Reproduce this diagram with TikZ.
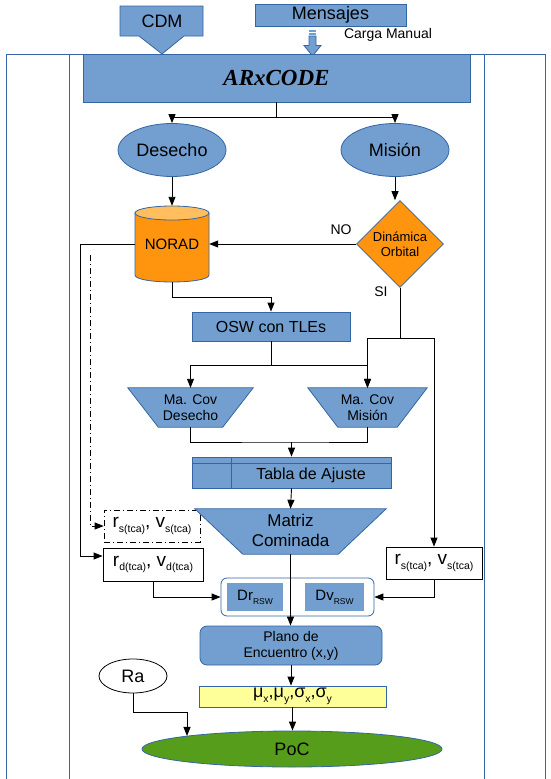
\documentclass[tikz,border=0pt]{standalone}
\usepackage{fontspec}
\setmainfont{Liberation Sans}
\newfontfamily\titlefont{Liberation Serif}
\usetikzlibrary{arrows.meta,shapes.geometric}
\definecolor{bfill}{HTML}{729FCF}
\definecolor{bline}{HTML}{3465A4}
\definecolor{orng}{HTML}{FF950E}
\definecolor{orngtop}{HTML}{FFBF5F}
\definecolor{grn}{HTML}{579D1C}
\definecolor{ylw}{HTML}{FFFF99}
\newcommand\fsz[2]{\fontsize{#1}{#2}\selectfont}
\newcommand\sbx[1]{\raisebox{-4.5pt}{\fsz{10.5}{12}#1}}
\newcommand\sby[1]{\raisebox{-4pt}{\fsz{8.5}{10}#1}}
\begin{document}
\begin{tikzpicture}[x=1pt,y=-1pt,
  arr/.style={draw=black,line width=0.9pt,-{Triangle[length=9pt,width=7pt]}},
  ln/.style={draw=black,line width=0.9pt},
  frameln/.style={draw=bline,line width=0.8pt},
  bbox/.style={rectangle,fill=bfill,draw=bline,line width=0.8pt,inner sep=0pt,align=center},
  bell/.style={ellipse,fill=bfill,draw=bline,line width=0.8pt,inner sep=0pt},
  txt/.style={inner sep=0pt,align=center},
  wbox/.style={rectangle,draw=black,line width=0.8pt,fill=white,inner sep=0pt},
  trap/.style={fill=bfill,draw=bline,line width=0.8pt},
  dashdot/.style={dash pattern=on 6pt off 3pt on 1pt off 3pt}
]
\useasboundingbox (0,0) rectangle (551,779);

% frame
\draw[frameln] (6,779) -- (6,54) -- (545,54) -- (545,779);
\draw[frameln] (69,54) -- (69,779);
\draw[frameln] (484,54) -- (484,779);

% CDM block arrow
\draw[trap] (120,6) -- (203,6) -- (203,36) -- (184,36) -- (162,54) -- (139,36) -- (120,36) -- cycle;
\node[txt,font=\fsz{18}{20}] (cdm) at (162,21) {CDM};

% Mensajes
\node[bbox,minimum width=151pt,minimum height=22pt,font=\fsz{18}{20}] (mens) at (330.5,15) {Mensajes};
\fill[bfill] (309,30) rectangle (316,32);
\fill[bfill] (309,33) rectangle (316,35);
\draw[trap] (309,36) -- (316,36) -- (316,45.5) -- (321,45.5) -- (312.5,56) -- (304,45.5) -- (309,45.5) -- cycle;
\node[txt,font=\fsz{14}{16}] (carga) at (388,35) {Carga Manual};

% ARxCODE
\node[bbox,minimum width=387pt,minimum height=48pt,font=\titlefont\bfseries\itshape\fsz{23}{25}] (arx) at (276.5,78) {ARxCODE};

% Desecho / Mision
\node[bell,minimum width=108pt,minimum height=53pt,font=\fsz{18}{20}] (desecho) at (172,150) {Desecho};
\node[bell,minimum width=108pt,minimum height=53pt,font=\fsz{18}{20}] (mision) at (395,150) {Misión};
\draw[arr] (arx.south) -- ++(0,15) -| (desecho.north);
\draw[arr] (arx.south) -- ++(0,15) -| (mision.north);

% NORAD cylinder
\draw[fill=orng,draw=bline,line width=0.8pt] (135,213) -- (135,275) .. controls (135,284.3) and (209,284.3) .. (209,275) -- (209,213) -- cycle;
\draw[fill=orngtop,draw=bline,line width=0.8pt] (172,213) ellipse [x radius=37,y radius=7];
\node[txt,minimum width=74pt,minimum height=76pt,font=\fsz{15}{17}] (norad) at (172,244) {NORAD};
\draw[arr] (desecho.south) -- (norad.north);

% Dinamica Orbital
\node[diamond,fill=orng,draw=bline,line width=0.6pt,minimum width=87pt,minimum height=87pt,inner sep=0pt,align=center,font=\fsz{13}{15}] (dino) at (400,244) {Dinámica\\Orbital};
\draw[arr] (mision.south) -- (mision.south |- dino.north);
\draw[arr] (dino.west) -- (norad.east);
\node[txt,font=\fsz{14}{16}] (nolbl) at (341,230) {NO};
\node[txt,font=\fsz{14}{16}] (silbl) at (381,292) {SI};

% OSW
\node[bbox,minimum width=158pt,minimum height=29pt,font=\fsz{16}{18}] (osw) at (271,326.5) {OSW con TLEs};
\draw[arr] (norad.south) -- ++(0,15) -| (osw.north);

% Ma. Cov trapezoids
\node[txt,minimum width=125pt,minimum height=39pt] (macd) at (190.5,407.5) {};
\draw[trap] (macd.north west) -- (macd.north east) -- ([xshift=-30.5pt]macd.south east) -- ([xshift=30.5pt]macd.south west) -- cycle;
\node[txt,font=\fsz{14}{16}] (macdt) at (190.5,407.5) {Ma. Cov\\Desecho};
\node[txt,minimum width=119pt,minimum height=39pt] (macm) at (367.5,407.5) {};
\draw[trap] (macm.north west) -- (macm.north east) -- ([xshift=-30pt]macm.south east) -- ([xshift=30pt]macm.south west) -- cycle;
\node[txt,font=\fsz{14}{16}] (macmt) at (367.5,407.5) {Ma. Cov\\Misión};
\draw[arr] (osw.south) -- ++(0,24) -| (macd.north);
\draw[arr] (osw.south) -- ++(0,24) -| (macm.north);

% SI branch
\coordinate (sij) at (400,338);
\node[wbox,minimum width=96pt,minimum height=32pt,font=\fsz{19}{20}] (rs2) at (434,563) {r\sbx{s(tca)}, v\sbx{s(tca)}};
\draw[ln] (dino.south) -- (sij);
\draw[arr] (sij) -| (macm.north);
\draw[arr] (sij) -| (rs2.north);

% Tabla de Ajuste
\node[bbox,minimum width=199pt,minimum height=31pt] (tabla) at (291.5,472.5) {};
\draw[draw=bline,line width=0.8pt] (192,463) -- (391,463);
\draw[draw=bline,line width=0.8pt] (231,457) -- (231,488);
\node[txt,font=\fsz{16}{18}] (tablat) at (311,475) {Tabla de Ajuste};
\coordinate (mj) at (291.5,442);
\draw[ln] (macd.south) |- (mj) -| (macm.south);
\draw[arr] (mj) -- (tabla.north);

% Matriz Cominada
\node[txt,minimum width=191pt,minimum height=45pt] (matriz) at (290.5,531.5) {};

% r_s dashed box (left)
\node[rectangle,draw=black,line width=0.7pt,dashdot,inner sep=0pt,minimum width=96pt,minimum height=32pt,font=\fsz{19}{20}] (rs1) at (152,526) {r\sbx{s(tca)}, v\sbx{s(tca)}};
\draw[trap] (matriz.north west) -- (matriz.north east) -- ([xshift=-48pt]matriz.south east) -- ([xshift=48pt]matriz.south west) -- cycle;
\node[txt,font=\fsz{17}{20}] (matrizt) at (290.5,530) {Matriz\\Cominada};
\draw[arr] (tabla.south) -- (matriz.north);

% r_d box
\node[wbox,minimum width=100pt,minimum height=33pt,font=\fsz{19}{20}] (rd) at (153,564.5) {r\sbx{d(tca)}, v\sbx{d(tca)}};

% left connectors
\coordinate (lj) at (80,556);
\draw[arr] (norad.west) -| (lj) -- (rd.west |- lj);
\coordinate (dd) at (90,255);
\draw[arr,dashdot] (dd) |- (rs1.west);

% group Dr / Dv
\node[rectangle,rounded corners=6pt,fill=white,draw=bline,line width=0.8pt,minimum width=153pt,minimum height=38pt] (grp) at (297.5,597) {};
\node[rectangle,fill=bfill,inner sep=0pt,minimum width=56pt,minimum height=28pt,font=\fsz{15}{17}] (dr) at (255,597) {Dr\sby{RSW}};
\node[rectangle,fill=bfill,inner sep=0pt,minimum width=59pt,minimum height=28pt,font=\fsz{15}{17}] (dv) at (334.5,597) {Dv\sby{RSW}};
\draw[arr] (rd.south) |- (grp.west);
\draw[arr] (rs2.south) |- (grp.east);

% Plano de Encuentro
\node[bbox,rounded corners=7pt,minimum width=182pt,minimum height=39pt,font=\fsz{14}{16}] (plano) at (291,645.5) {Plano de\\Encuentro (x,y)};
\draw[arr] (matriz.south) -- (matriz.south |- plano.north);

% mu box
\node[rectangle,fill=ylw,draw=bline,line width=0.8pt,inner sep=0pt,minimum width=187pt,minimum height=21pt,font=\fsz{18}{20}] (mu) at (292.5,696.5) {μ\sbx{x},μ\sbx{y},σ\sbx{x},σ\sbx{y}};
\draw[arr] (plano.south) -- (plano.south |- mu.north);

% PoC
\node[ellipse,fill=grn,draw=bline,line width=0.8pt,inner sep=0pt,minimum width=300pt,minimum height=36pt,font=\fsz{18}{20}] (poc) at (292,749) {PoC};
\draw[arr] (mu.south) -- (mu.south |- poc.north);

% Ra
\node[ellipse,fill=white,draw=black,line width=0.8pt,inner sep=0pt,minimum width=68pt,minimum height=34pt,font=\fsz{18}{20}] (ra) at (133,676) {Ra};
\coordinate (rj) at (187,712);
\draw[arr] (ra.south) |- (rj) -- (rj |- poc.173);
\end{tikzpicture}
\end{document}
